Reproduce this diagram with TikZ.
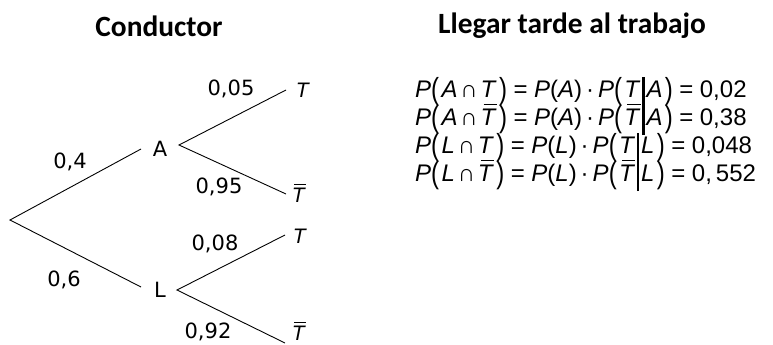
\documentclass[tikz,border=0pt]{standalone}
\usepackage{fontspec}
\usepackage{graphicx}
\setmainfont{Liberation Sans}
\newfontfamily\hdfont{Carlito}
\newfontfamily\numfont{DejaVu Sans}
\newcommand{\lpar}{\raisebox{-0.12em}{\scalebox{1}[1.27]{(}}\hspace{0.1em}}
\newcommand{\rpar}{\hspace{0.1em}\raisebox{-0.12em}{\scalebox{1}[1.27]{)}}}
\newcommand{\cbar}{\hspace{0.08em}\rule[-0.42em]{0.09em}{1.25em}\hspace{0.08em}}
\newcommand{\Tbar}{\leavevmode\rlap{\hspace{0.12em}\rule[0.82em]{0.55em}{0.06em}}\textit{T}}
\newcommand{\capp}{\hspace{0.12em}\raisebox{-0.02em}{∩}\hspace{0.12em}}
\newcommand{\eqs}{\hspace{0.27em}=\hspace{0.27em}}
\begin{document}
\begin{tikzpicture}[x=1pt,y=-1pt,
  br/.style={line width=0.9pt},
  lab/.style={font=\numfont\fontsize{21}{23}\selectfont, inner sep=0pt},
  leaf/.style={font=\fontsize{21}{23}\selectfont, inner sep=0pt},
  hd/.style={font=\hdfont\bfseries\fontsize{29.4}{31}\selectfont, inner sep=0pt},
  eq/.style={font=\fontsize{24}{26}\selectfont, inner sep=0pt, anchor=base west}]
\useasboundingbox (0,0) rectangle (773,345);
% headers
\node[hd] (h1) at (159,26) {Conductor};
\node[hd] (h2) at (572,26) {Llegar tarde al trabajo};
% tree nodes
\coordinate (root) at (10,220);
\node[lab] (A) at (160,149) {A};
\node[lab] (L) at (160,290) {L};
\coordinate (Ain) at (141,149);
\coordinate (Aout) at (179,145);
\coordinate (Lin) at (141,287);
\coordinate (Lout) at (177,290);
\node[leaf] (T1) at (303,90) {\textit{T}};
\node[leaf] (T2) at (299,193) {\Tbar};
\node[leaf] (T3) at (300,236) {\textit{T}};
\node[leaf] (T4) at (299,331) {\Tbar};
\coordinate (e1) at (286,90);
\coordinate (e2) at (286,194);
\coordinate (e3) at (285,235);
\coordinate (e4) at (285,343);
\draw[br] (Ain) -- (root) -- (Lin);
\draw[br] (e1) -- (Aout) -- (e2);
\draw[br] (e3) -- (Lout) -- (e4);
% probabilities
\node[lab] (p1) at (70,162) {0,4};
\node[lab] (p2) at (64,280) {0,6};
\node[lab] (p3) at (231,89) {0,05};
\node[lab] (p4) at (219,187) {0,95};
\node[lab] (p5) at (215,244) {0,08};
\node[lab] (p6) at (208,332) {0,92};
% equations
\node[eq] (q1) at (415,97) {\textit{P}\lpar\textit{A}\capp\textit{T}\rpar\eqs\textit{P}(\textit{A})\,·\,\textit{P}\lpar\textit{T}\cbar\textit{A}\rpar\eqs 0,02};
\node[eq] (q2) at (415,125) {\textit{P}\lpar\textit{A}\capp\Tbar\rpar\eqs\textit{P}(\textit{A})\,·\,\textit{P}\lpar\Tbar\cbar\textit{A}\rpar\eqs 0,38};
\node[eq] (q3) at (415,153) {\textit{P}\lpar\textit{L}\capp\textit{T}\rpar\eqs\textit{P}(\textit{L})\,·\,\textit{P}\lpar\textit{T}\cbar\textit{L}\rpar\eqs 0,048};
\node[eq] (q4) at (415,181) {\textit{P}\lpar\textit{L}\capp\Tbar\rpar\eqs\textit{P}(\textit{L})\,·\,\textit{P}\lpar\Tbar\cbar\textit{L}\rpar\eqs 0,\,552};
\end{tikzpicture}
\end{document}
